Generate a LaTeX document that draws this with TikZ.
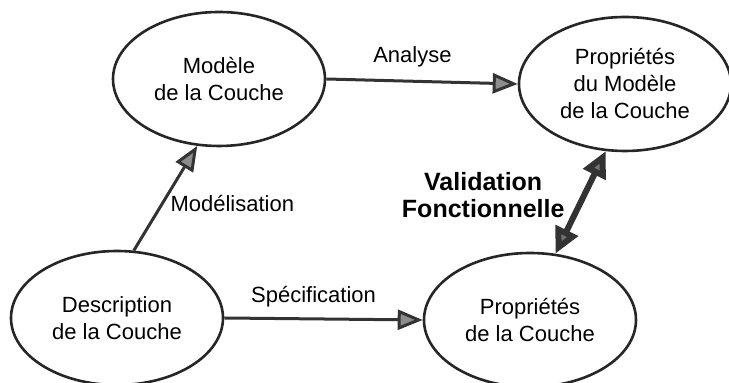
\documentclass[tikz,border=0pt]{standalone}
\usepackage{fontspec}
\setmainfont{Liberation Sans}
\usetikzlibrary{shapes.geometric,arrows.meta}

\tikzstyle{state}=[ellipse,draw=black!85,line width=1.3pt,minimum width=106pt,minimum height=67pt,inner sep=0pt,align=center,font=\fontsize{11}{13.5}\selectfont]
\tikzstyle{edge} = [draw,line width=1.5pt,black!80,-{Triangle[length=12.5pt,width=10pt,fill=black!45]}]
\tikzstyle{check edge} = [draw,line width=3pt,black!80,{Triangle[length=13pt,width=12pt,fill=black!55]}-{Triangle[length=13pt,width=12pt,fill=black!55]}]
\tikzstyle{action} = [font=\fontsize{11}{13.5}\selectfont,black]
\tikzstyle{check} = [font=\fontsize{12.5}{13.5}\selectfont\bfseries,align=center,black]

\begin{document}
\begin{tikzpicture}[x=0.5pt,y=-0.5pt]
     \path[use as bounding box] (0,0) rectangle (729,383);
     % First we draw the four ellipses
     \foreach \pos/\name/\txt in {{(219,79)/mod/{Modèle\\de la Couche}},
       {(625,84)/pm/{Propriétés\\du Modèle\\de la Couche}},
       {(117,318)/desc/{Description\\de la Couche}}, {(530,320)/pc/{Propriétés\\de la Couche}}}
     \node[state] (\name) at \pos {\txt};

     % Connect ellipses with arrows and put the names on them
     \foreach \source/ \dest/ \weight/ \where/ \gap in {mod.east/pm.west/Analyse/above/3pt,
       desc.east/pc.west/Spécification/above/2pt, desc.76/mod.-108/Modélisation/right/0pt}
     \path[edge] (\source) -- node[action,\where=\gap,pos=0.45] {\weight} (\dest);

     \path[check edge] (pc.69) -- node[check,left=5pt,pos=0.57] {Validation\\Fonctionnelle} (pm.-106);
   \end{tikzpicture}
\end{document}
